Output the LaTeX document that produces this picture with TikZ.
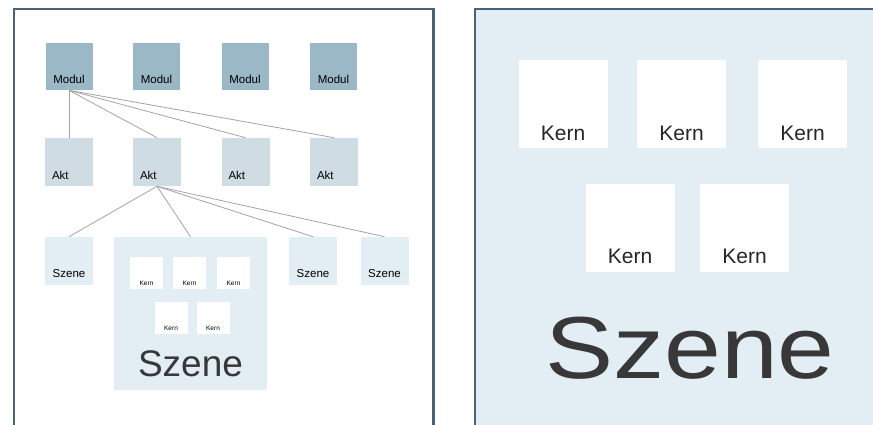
\documentclass[tikz,border=0pt]{standalone}
\usepackage{fontspec}
\setmainfont{Liberation Sans}
\definecolor{rahmen}{HTML}{4B6178}
\definecolor{modulfarbe}{HTML}{9BB8C6}
\definecolor{aktfarbe}{HTML}{CFDCE3}
\definecolor{szenefarbe}{HTML}{E3EDF4}
\definecolor{linie}{HTML}{A3A3A3}
\definecolor{schrift}{HTML}{383838}

\begin{document}
\begin{tikzpicture}[x=1pt,y=-1pt,semithick]
	\tikzstyle{every node}=[inner sep=0pt,text=schrift]
	\tikzstyle{modul}=[fill=modulfarbe,minimum width=47pt,minimum height=47pt]
	\tikzstyle{akt}=[fill=aktfarbe,minimum width=48pt,minimum height=48pt]
	\tikzstyle{szene}=[fill=szenefarbe,minimum width=48pt,minimum height=48pt]
	\tikzstyle{kernklein}=[fill=white,minimum width=33pt,minimum height=32pt]
	\tikzstyle{kern}=[fill=white,minimum width=89pt,minimum height=88pt]
	\tikzstyle{klein}=[font=\fontsize{11.5}{12}\selectfont]
	\useasboundingbox (0,0) rectangle (873,425);
	\fill[szenefarbe] (475,9) rectangle (880,430);
	\draw[rahmen,line width=2.5pt] (14,430) -- (14,9) -- (433.5,9) -- (433.5,430);
	\draw[rahmen,line width=2.5pt] (475,430) -- (475,9) -- (880,9);
	\node[modul]         (M1) at (69,66.5)        {};
	\node[modul]         (M2) at (156.5,66.5)     {};
	\node[modul]         (M3) at (245,66.5)       {};
	\node[modul]         (M4) at (333.5,66.5)     {};
	\node[akt]           (A1) at (69,162)         {};
	\node[akt]           (A2) at (157,162)        {};
	\node[akt]           (A3) at (245.5,162)      {};
	\node[akt]           (A4) at (334,162)        {};
	\node[szene]         (S1) at (69,261)         {};
	\node[szene, minimum width=153pt, minimum height=153pt] (S2) at (190.5,313.5) {};
	\node[szene]         (S3) at (313,261)        {};
	\node[szene]         (S4) at (384.5,261)      {};
	\node[kernklein]     (K1) at (146.5,273)      {};
	\node[kernklein]     (K2) at (189.5,273)      {};
	\node[kernklein]     (K3) at (233.5,273)      {};
	\node[kernklein]     (K4) at (171,318)        {};
	\node[kernklein]     (K5) at (213,318)        {};
	\node[kern]          (R1) at (563,104)        {};
	\node[kern]          (R2) at (681.5,104)      {};
	\node[kern]          (R3) at (802.5,104)      {};
	\node[kern]          (R4) at (630,227.5)      {};
	\node[kern]          (R5) at (744.5,227.5)    {};
	\foreach \m in {M1,M2,M3,M4}
		\node [klein, text=black] at ([yshift=11pt]\m.south) {Modul};
	\foreach \a in {A1,A2,A3,A4}
		\node [klein, text=black, anchor=west] at ([xshift=7pt,yshift=11pt]\a.south west) {Akt};
	\foreach \s in {S1,S3,S4}
		\node [klein, text=black] at ([yshift=12pt]\s.south) {Szene};
	\foreach \k in {K1,K2,K3,K4,K5}
		\node [font=\fontsize{6.5}{7}\selectfont, text=black] at ([yshift=6pt]\k.south) {Kern};
	\foreach \k in {R1,R2,R3,R4,R5}
		\node [font=\fontsize{21}{24}\selectfont, text=black!85] at ([yshift=15pt]\k.south) {Kern};
	\node [font=\fontsize{37}{40}\selectfont] at ([yshift=27pt]S2.south) {Szene};
	\node [font=\fontsize{88}{92}\selectfont] at (690,348.5) {\scalebox{1.16}[1]{Szene}};
	\path[linie, line width=0.8pt]
		(M1.south) edge (A1.north)
		(M1.south) edge (A2.north)
		(M1.south) edge (A3.north)
		(M1.south) edge (A4.north)
		(A2.south) edge (S1.north)
		(A2.south) edge (S2.north)
		(A2.south) edge (S3.north)
		(A2.south) edge (S4.north);
\end{tikzpicture}
\end{document}
